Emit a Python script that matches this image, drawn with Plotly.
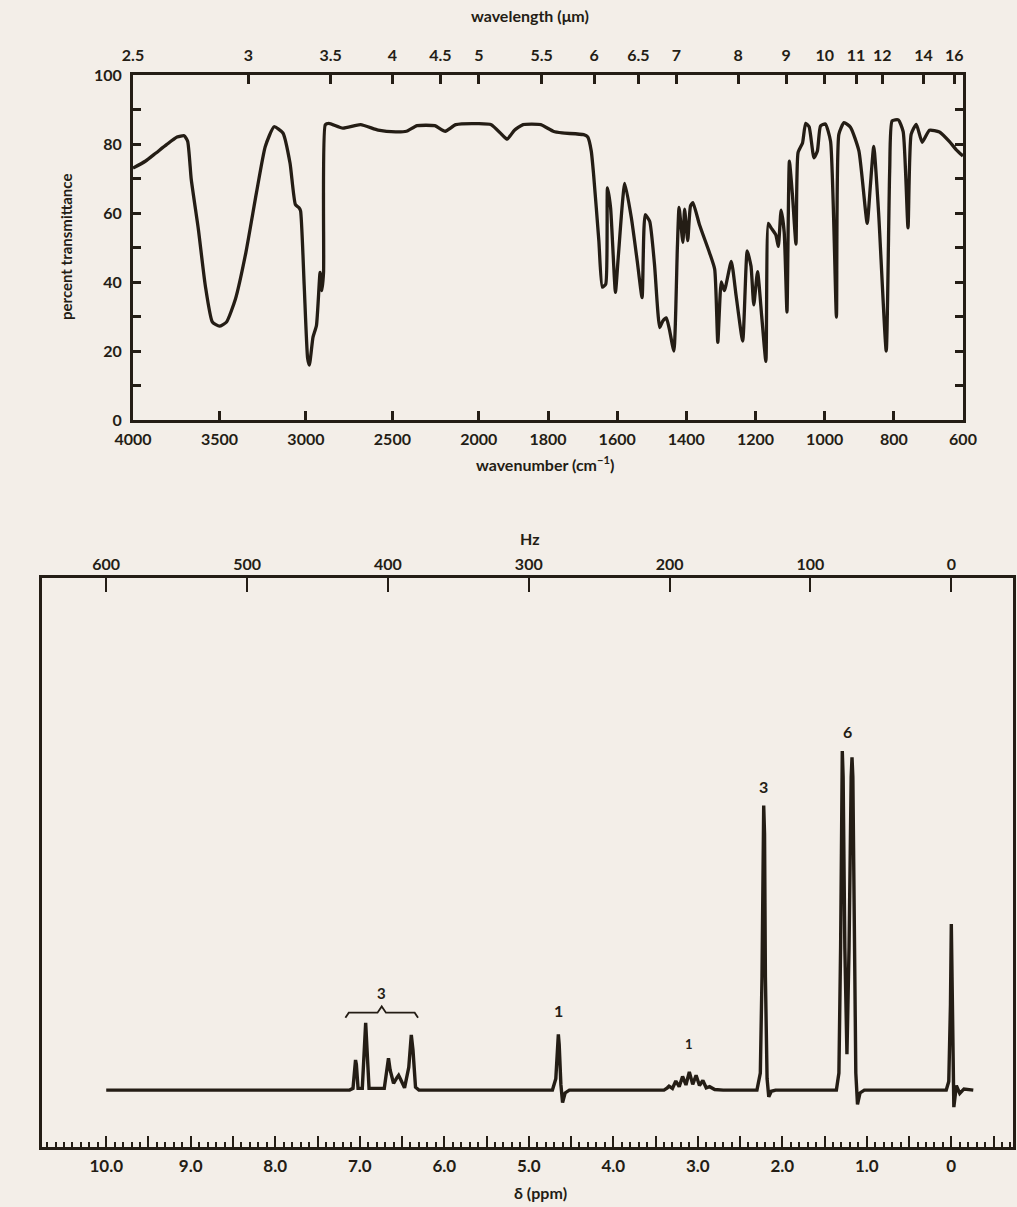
import numpy as np
import plotly.graph_objects as go

# ---------------- IR spectrum (wavenumber cm-1, percent transmittance) ----------------
ir_wavenumber = [
    4000, 3929, 3867, 3806, 3745, 3704, 3684, 3663, 3622, 3582, 3541, 3500, 3459, 3408,
    3347, 3286, 3235, 3184, 3133, 3092, 3061, 3040, 3031, 3010, 2990, 2980, 2959, 2939,
    2918, 2908, 2898, 2888, 2867, 2786, 2684, 2582, 2480, 2418, 2357, 2255, 2194, 2133,
    2000, 1964, 1933, 1918, 1897, 1872, 1821, 1785, 1759, 1697, 1685, 1675, 1668, 1653,
    1643, 1633, 1628, 1619, 1605, 1597, 1578, 1559, 1542, 1528, 1519, 1506, 1492, 1477,
    1468, 1458, 1449, 1436, 1426, 1421, 1410, 1405, 1396, 1388, 1381, 1362, 1333, 1318,
    1309, 1299, 1290, 1270, 1256, 1237, 1224, 1213, 1205, 1194, 1182, 1170, 1163, 1155,
    1141, 1134, 1126, 1117, 1109, 1102, 1093, 1083, 1077, 1064, 1055, 1045, 1031, 1021,
    1012, 998, 983, 966, 959, 944, 925, 901, 877, 868, 858, 844, 822, 812, 805, 787,
    773, 759, 750, 735, 718, 697, 668, 639, 620, 600,
]
ir_transmittance = [
    73.0, 75.0, 77.4, 79.8, 82.0, 82.4, 80.8, 69.7, 55.3, 39.0, 28.4, 27.2, 28.4, 35.0,
    48.6, 65.9, 79.3, 85.0, 83.2, 74.5, 62.5, 61.5, 60.6, 39.0, 17.8, 15.9, 24.0, 27.4,
    42.8, 37.5, 42.8, 85.6, 86.0, 84.6, 85.6, 84.0, 83.5, 83.7, 85.3, 85.3, 83.7, 85.6,
    85.9, 85.6, 82.7, 81.4, 84.0, 85.6, 85.6, 83.7, 83.2, 82.7, 82.0, 78.0, 71.0, 52.0,
    38.5, 39.4, 67.3, 61.5, 37.0, 47.0, 68.6, 58.6, 46.1, 35.5, 59.5, 57.6, 45.0, 26.8,
    28.7, 29.6, 26.3, 20.0, 49.7, 61.6, 51.5, 61.1, 52.0, 62.0, 63.0, 56.6, 48.5, 43.7,
    22.5, 40.0, 37.5, 46.0, 36.0, 22.9, 49.0, 44.6, 33.4, 43.0, 30.0, 17.0, 57.0, 55.7,
    53.6, 50.3, 60.8, 54.4, 31.3, 75.0, 65.0, 51.0, 77.5, 80.3, 86.0, 85.0, 76.0, 78.0,
    85.2, 85.8, 80.8, 29.8, 82.8, 86.2, 84.8, 78.0, 57.0, 67.7, 79.3, 60.0, 20.0, 72.3,
    86.7, 87.0, 83.6, 55.7, 82.8, 85.7, 80.5, 84.0, 83.5, 80.7, 78.4, 76.5,
]

ir_wavenumber_ticks = [4000, 3500, 3000, 2500, 2000, 1800, 1600, 1400, 1200, 1000, 800, 600]
ir_wavelength_ticks = [2.5, 3, 3.5, 4, 4.5, 5, 5.5, 6, 6.5, 7, 8, 9, 10, 11, 12, 14, 16]
ir_wavelength_text = ["2.5", "3", "3.5", "4", "4.5", "5", "5.5", "6", "6.5", "7",
                      "8", "9", "10", "11", "12", "14", "16"]
ir_percent_labels = [0, 20, 40, 60, 80, 100]

# ---------------- 1H NMR spectrum (delta ppm, relative intensity) ----------------
nmr_ppm = [
    10.0, 7.12, 7.08, 7.06, 7.05, 7.04, 7.02, 6.97, 6.95, 6.93, 6.91, 6.89, 6.71, 6.68,
    6.66, 6.64, 6.60, 6.56, 6.54, 6.52, 6.47, 6.42, 6.39, 6.37, 6.34, 6.30,
    4.72, 4.68, 4.66, 4.65, 4.64, 4.62, 4.60, 4.57, 4.52,
    3.40, 3.36, 3.34, 3.30, 3.26, 3.22, 3.18, 3.14, 3.10, 3.06, 3.02, 2.98, 2.94, 2.90,
    2.86, 2.80, 2.70,
    2.30, 2.26, 2.24, 2.23, 2.22, 2.21, 2.20, 2.18, 2.16, 2.13, 2.08,
    1.36, 1.33, 1.31, 1.30, 1.29, 1.28, 1.26, 1.235, 1.21, 1.185, 1.175, 1.165, 1.15,
    1.13, 1.11, 1.08, 1.03,
    0.06, 0.03, 0.01, 0.0, -0.01, -0.02, -0.03, -0.06, -0.10, -0.15, -0.26,
]
nmr_intensity = [
    0.0, 0.0, 0.3, 4.5, 5.3, 4.5, 0.3, 0.3, 6.0, 11.8, 6.0, 0.3, 0.3, 3.5,
    5.6, 3.5, 1.2, 2.2, 2.6, 2.0, 0.4, 4.0, 9.7, 7.0, 0.5, 0.0,
    0.0, 2.0, 8.0, 9.8, 8.0, 1.0, -2.2, -0.5, 0.0,
    0.0, 0.4, 0.7, 0.3, 1.6, 0.6, 2.4, 0.9, 3.2, 1.0, 2.6, 0.8, 1.7, 0.4,
    0.6, 0.1, 0.0,
    0.0, 3.0, 20.0, 45.0, 50.0, 45.0, 20.0, 2.0, -1.2, -0.2, 0.0,
    0.0, 3.0, 25.0, 55.0, 59.6, 55.0, 25.0, 6.3, 25.0, 55.0, 58.5, 55.0, 25.0,
    3.0, -2.5, -0.5, 0.0,
    0.0, 1.5, 15.0, 29.2, 15.0, 1.5, -3.0, 0.8, -0.6, 0.2, 0.0,
]

# integration labels: (text, ppm, height of the signal it marks)
integral_text = ["1", "1", "3", "6"]
integral_ppm = [4.65, 3.10, 2.22, 1.23]
integral_height = [9.8, 3.2, 50.0, 59.6]

# aromatic group marked with a brace
aromatic_span = [7.17, 6.31]
aromatic_label = "3"

nmr_ppm_ticks = [10.0, 9.0, 8.0, 7.0, 6.0, 5.0, 4.0, 3.0, 2.0, 1.0, 0.0]
nmr_ppm_text = ["10.0", "9.0", "8.0", "7.0", "6.0", "5.0", "4.0", "3.0", "2.0", "1.0", "0"]
nmr_half_ticks = [9.5, 8.5, 7.5, 6.5, 5.5, 4.5, 3.5, 2.5, 1.5, 0.5, -0.5]
nmr_hz_ticks = [600, 500, 400, 300, 200, 100, 0]
spectrometer_mhz = 60.0

INK = "#241d15"
PAPER = "#f3eee8"
FONT = "Lato"


def ir_scale(w):
    """Chart-paper abscissa: 4000-2000 cm-1 at half the scale of 2000-600 cm-1."""
    w = np.asarray(w, dtype=float)
    return np.where(w >= 2000, (4000 - w) / 2.0, 1000 + (2000 - w))


W, H = 1017, 1207
def px_x(p):
    return p / W
def px_y(p):
    return 1 - p / H

ir_dom_x = [px_x(133), px_x(963)]
ir_dom_y = [px_y(420), px_y(75)]
nmr_dom_x = [px_x(42), px_x(1013)]
nmr_dom_y = [px_y(1147), px_y(578)]

ir_range = [float(ir_scale(4000)), float(ir_scale(600))]
nmr_range = [10.76, -0.73]
nmr_yrange = [-10, 90]

fig = go.Figure()

fig.add_trace(go.Scatter(
    x=ir_scale(ir_wavenumber), y=ir_transmittance, mode="lines",
    line=dict(color=INK, width=3.3, shape="spline", smoothing=0.5),
    xaxis="x", yaxis="y", showlegend=False, hoverinfo="skip",
))
# anchor for the wavelength axis on top
fig.add_trace(go.Scatter(
    x=[ir_range[0]], y=[50], mode="markers", marker=dict(opacity=0),
    xaxis="x2", yaxis="y", showlegend=False, hoverinfo="skip",
))

fig.add_trace(go.Scatter(
    x=nmr_ppm, y=nmr_intensity, mode="lines",
    line=dict(color=INK, width=3.4), xaxis="x3", yaxis="y3",
    showlegend=False, hoverinfo="skip",
))
for ax in ("x4", "x5"):
    fig.add_trace(go.Scatter(
        x=[5], y=[50], mode="markers", marker=dict(opacity=0),
        xaxis=ax, yaxis="y3", showlegend=False, hoverinfo="skip",
    ))

# brace over the aromatic signals
a0, a1 = aromatic_span
mid = (a0 + a1) / 2
lvl = 13.6
brace_x = [a0, a0 - 0.04, mid + 0.05, mid, mid - 0.05, a1 + 0.04, a1]
brace_y = [lvl - 0.9, lvl, lvl, lvl + 1.1, lvl, lvl, lvl - 0.9]
fig.add_trace(go.Scatter(
    x=brace_x, y=brace_y, mode="lines", line=dict(color=INK, width=1.8),
    xaxis="x3", yaxis="y3", showlegend=False, hoverinfo="skip",
))

tick_font = dict(family=FONT, size=16, color=INK, weight="bold")
common = dict(showgrid=False, zeroline=False, automargin=False)

fig.update_layout(
    width=W, height=H,
    margin=dict(l=0, r=0, t=0, b=0, autoexpand=False),
    paper_bgcolor=PAPER, plot_bgcolor=PAPER,
    xaxis=dict(
        domain=ir_dom_x, anchor="y", range=ir_range,
        tickvals=ir_scale(ir_wavenumber_ticks).tolist(),
        ticktext=[str(v) for v in ir_wavenumber_ticks],
        ticks="inside", ticklen=9, tickwidth=2.5, tickcolor=INK,
        showline=True, linewidth=3, linecolor=INK, mirror=True,
        tickfont=tick_font, ticklabelstandoff=3, **common,
    ),
    xaxis2=dict(
        overlaying="x", anchor="y", side="top", range=ir_range,
        tickvals=ir_scale(10000.0 / np.array(ir_wavelength_ticks)).tolist(),
        ticktext=ir_wavelength_text,
        ticks="inside", ticklen=9, tickwidth=2.5, tickcolor=INK,
        showline=False, tickfont=tick_font, ticklabelstandoff=10, **common,
    ),
    yaxis=dict(
        domain=ir_dom_y, anchor="x", range=[0, 100],
        tickvals=ir_percent_labels,
        ticktext=[str(v) for v in ir_percent_labels],
        ticks="inside", ticklen=8, tickwidth=2.5, tickcolor=INK,
        minor=dict(dtick=10, tick0=0, ticks="inside", ticklen=8, tickwidth=2.5, tickcolor=INK),
        showline=True, linewidth=3, linecolor=INK, mirror="ticks",
        tickfont=tick_font, ticklabelstandoff=5, **common,
    ),
    xaxis3=dict(
        domain=nmr_dom_x, anchor="y3", range=nmr_range,
        tickvals=nmr_ppm_ticks, ticktext=nmr_ppm_text,
        ticks="inside", ticklen=11, tickwidth=2, tickcolor=INK,
        minor=dict(dtick=0.1, tick0=0, ticks="inside", ticklen=5, tickwidth=1.5, tickcolor=INK),
        showline=True, linewidth=3, linecolor=INK, mirror=True,
        tickfont=dict(family=FONT, size=17, color=INK, weight="bold"),
        ticklabelstandoff=2, **common,
    ),
    xaxis5=dict(
        overlaying="x3", anchor="y3", side="bottom", range=nmr_range,
        tickvals=nmr_half_ticks, showticklabels=False,
        ticks="inside", ticklen=11, tickwidth=2, tickcolor=INK,
        showline=False, **common,
    ),
    xaxis4=dict(
        overlaying="x3", anchor="y3", side="top", range=nmr_range,
        tickvals=[hz / spectrometer_mhz for hz in nmr_hz_ticks],
        ticktext=[str(hz) for hz in nmr_hz_ticks],
        ticks="inside", ticklen=14, tickwidth=2, tickcolor=INK,
        showline=False,
        tickfont=dict(family=FONT, size=16, color=INK, weight="bold"),
        ticklabelstandoff=4, **common,
    ),
    yaxis3=dict(
        domain=nmr_dom_y, anchor="x3", range=nmr_yrange,
        showticklabels=False, ticks="",
        showline=True, linewidth=3, linecolor=INK, mirror=True, **common,
    ),
)

ann_font = dict(family=FONT, size=16, color=INK, weight="bold")
centered = dict(xref="paper", yref="paper", xanchor="center", yanchor="middle", showarrow=False)
annotations = [
    dict(text="wavelength (\u03bcm)", x=px_x(530), y=px_y(16), font=ann_font, **centered),
    dict(text="wavenumber (cm<sup>\u22121</sup>)", x=px_x(545), y=px_y(463), font=ann_font,
         **centered),
    dict(text="percent transmittance", x=px_x(66), y=px_y(247), textangle=-90,
         font=dict(family=FONT, size=15, color=INK, weight="bold"), **centered),
    dict(text="Hz", x=px_x(530), y=px_y(538), font=ann_font, **centered),
    dict(text="\u03b4 (ppm)", x=px_x(540), y=px_y(1192), font=ann_font, **centered),
    dict(text=aromatic_label, x=mid, y=lvl + 1.1, xref="x3", yref="y3", yanchor="bottom",
         yshift=2, showarrow=False, font=dict(family=FONT, size=15, color=INK, weight="bold")),
]
for t, p, h in zip(integral_text, integral_ppm, integral_height):
    annotations.append(dict(
        text=t, x=p, y=h, xref="x3", yref="y3", yanchor="bottom",
        yshift=8 if h > 20 else (12 if h > 5 else 18), showarrow=False,
        font=dict(family=FONT, size=16 if h > 5 else 13, color=INK, weight="bold"),
    ))
fig.update_layout(annotations=annotations)

fig.write_html("out.html")
